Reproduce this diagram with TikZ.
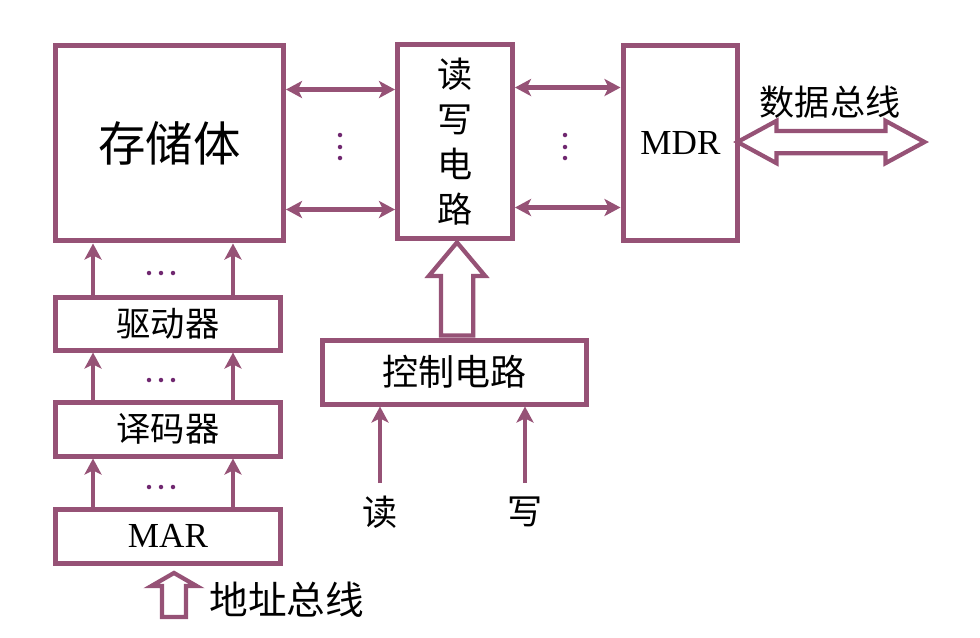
\documentclass[tikz,border=0pt]{standalone}
\usepackage{fontspec}
\setmainfont{Liberation Serif}
\newfontfamily\cjk{Noto Sans CJK SC}
\usetikzlibrary{arrows.meta,shapes.arrows}
\definecolor{boxc}{RGB}{150,82,118}
\definecolor{dotc}{RGB}{112,40,112}

\begin{document}
\begin{tikzpicture}[x=0.02cm,y=-0.02cm,
    box/.style={draw=boxc,line width=0.1cm,inner sep=0pt,font=\cjk\fontsize{19.5}{23}\selectfont},
    lbl/.style={inner sep=0pt,font=\cjk\fontsize{20}{24}\selectfont},
    arr/.style={draw=boxc,line width=0.09cm,-{Stealth[length=0.32cm,width=0.34cm,inset=0.08cm]}},
    biarr/.style={arr,{Stealth[length=0.32cm,width=0.34cm,inset=0.08cm]}-{Stealth[length=0.32cm,width=0.34cm,inset=0.08cm]}},
    hollowup/.style={single arrow,draw=boxc,line width=0.085cm,inner sep=0pt,rotate=90,single arrow head indent=0pt}]
    \useasboundingbox (0,0) rectangle (980,637);

    \node (store) at (169.5,143) [box,minimum width=4.56cm,minimum height=3.92cm,font=\cjk\fontsize{27}{30}\selectfont] {存储体};
    \node (rw) at (455,141.5) [box,minimum width=2.3cm,minimum height=3.9cm,align=center,font=\cjk\fontsize{20}{25.6}\selectfont] {读\\写\\电\\路};
    \node (mdr) at (680.5,143) [box,minimum width=2.3cm,minimum height=3.92cm,font=\fontsize{20}{24}\selectfont] {MDR};
    \node (drv) at (168,323.5) [box,minimum width=4.52cm,minimum height=1.06cm] {驱动器};
    \node (dec) at (168,429) [box,minimum width=4.52cm,minimum height=1.08cm] {译码器};
    \node (mar) at (168,536) [box,minimum width=4.52cm,minimum height=1.08cm,font=\fontsize{20}{24}\selectfont] {MAR};
    \node (ctl) at (454.5,372) [box,minimum width=5.3cm,minimum height=1.28cm,font=\cjk\fontsize{20.5}{24}\selectfont] {控制电路};
    \node (rd) at (380,512) [lbl] {读};
    \node (wr) at (525,512) [lbl] {写};
    \node (datatxt) at (830,102) [lbl] {数据总线};
    \node (addrtxt) at (209,600) [lbl,anchor=west,font=\cjk\fontsize{22}{26}\selectfont] {地址总线};

    \coordinate (s1) at ([yshift=-0.94cm]store.north east);
    \coordinate (s2) at ([yshift=0.68cm]store.south east);
    \coordinate (m1) at ([yshift=-0.92cm]rw.north east);
    \coordinate (m2) at ([yshift=0.68cm]rw.south east);
    \draw[biarr] (s1) -- (s1 -| rw.west);
    \draw[biarr] (s2) -- (s2 -| rw.west);
    \draw[biarr] (m1) -- (m1 -| mdr.west);
    \draw[biarr] (m2) -- (m2 -| mdr.west);

    \foreach \lo/\hi in {mar/dec,dec/drv,drv/store} {
        \coordinate (l) at ([xshift=-1.5cm]\lo.north);
        \coordinate (r) at ([xshift=1.3cm]\lo.north);
        \draw[arr] (l) -- (l |- \hi.south);
        \draw[arr] (r) -- (r |- \hi.south);
    }

    \coordinate (r0) at ([yshift=0.58cm]rd.center);
    \coordinate (w0) at ([yshift=0.58cm]wr.center);
    \draw[arr] (r0) -- (r0 |- ctl.south);
    \draw[arr] (w0) -- (w0 |- ctl.south);

    \node (ctlbus) at ([xshift=0.05cm]ctl.north) [hollowup,anchor=tail,minimum height=1.86cm,minimum width=1.04cm,inner ysep=0.28cm,single arrow head extend=0.24cm,single arrow tip angle=80] {};
    \node (addrbus) at ([xshift=0.12cm,yshift=-0.1cm]mar.south) [hollowup,anchor=tip,minimum height=0.88cm,minimum width=0.82cm,inner ysep=0.2cm,single arrow head extend=0.21cm,single arrow tip angle=120] {};
    \node (databus) at (831,142) [double arrow,draw=boxc,line width=0.085cm,inner sep=0pt,minimum height=3.74cm,minimum width=0.76cm,inner ysep=0.18cm,double arrow head extend=0.2cm,double arrow tip angle=57,double arrow head indent=0pt] {};

    % dots
    \foreach \x in {340,565}
        \foreach \y in {135,147,158}
            \fill[dotc] (\x,\y) circle (0.045cm);
    \foreach \y in {273,380,487}
        \foreach \x in {149,161,173}
            \fill[dotc] (\x,\y) circle (0.045cm);
\end{tikzpicture}
\end{document}
